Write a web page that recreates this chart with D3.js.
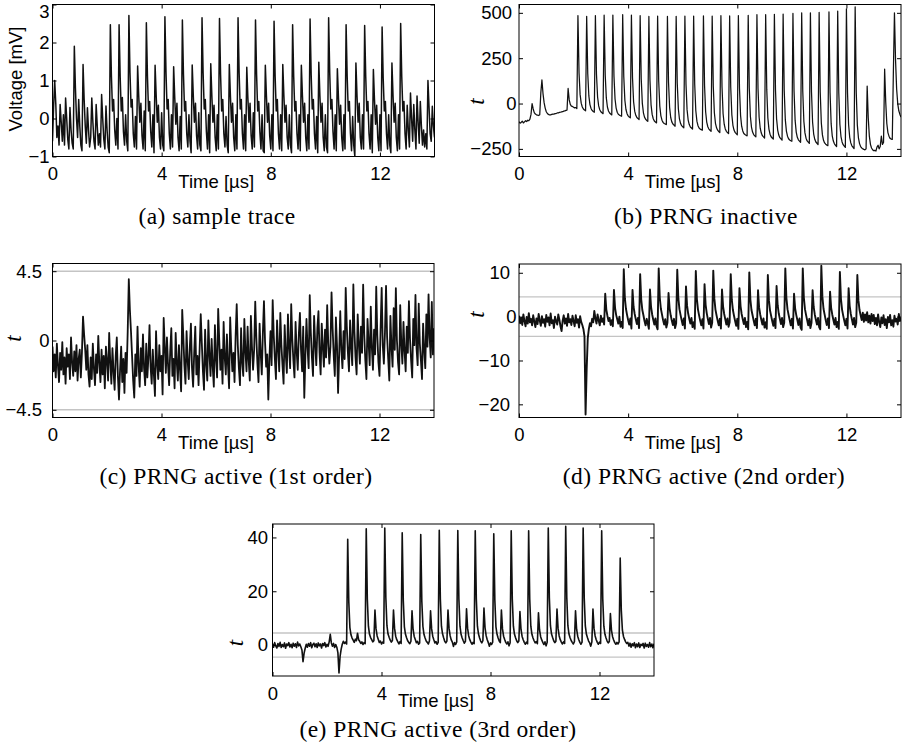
<!DOCTYPE html>
<html>
<head>
<meta charset="utf-8">
<script src="https://cdn.jsdelivr.net/npm/d3@7"></script>
<style>
  html, body { margin: 0; padding: 0; background: #fff; }
  svg { display: block; }
</style>
</head>
<body>
<svg id="fig" width="906" height="754"></svg>
<script>
// Oscilloscope traces, one sample every 0.04 µs from 0 to 14 µs (351 samples each).
const sampleStep = 0.04;
const timeDomain = [0, 14];
const timeTicks = [0, 4, 8, 12];

// (a) raw voltage trace [mV]
const traceA = [
  -0.6,0.3,1.0,0.4,-0.5,-0.2,-0.7,0.37,-0.1,-0.6,0.1,-0.7,0.54,0.0,-0.55,-0.8,0.29,-0.3,-0.65,-0.8,1.9,0.8,0.0,-0.5,0.5,
  -0.2,-0.7,-0.85,1.42,0.5,-0.2,-0.65,0.28,-0.3,-0.75,-0.5,0.54,-0.1,-0.6,-0.8,0.37,-0.2,-0.7,-0.4,-0.75,0.63,0.0,-0.55,-0.8,0.33,
  -0.3,-0.75,-0.9,2.47,1.1,0.2,0.5,-0.3,-0.7,0.0,-0.8,2.47,1.1,0.2,0.55,-0.35,-0.7,0.1,-0.6,-0.85,2.71,1.2,0.3,0.5,-0.4,
  -0.75,0.05,-0.8,1.38,0.6,-0.1,0.4,-0.45,-0.8,0.2,-0.85,2.52,1.1,0.2,0.45,-0.35,-0.75,0.1,-0.9,1.4,0.6,-0.1,0.35,-0.5,-0.8,
  0.15,-0.7,-0.85,2.68,1.2,0.25,0.5,-0.4,-0.8,0.1,-0.75,1.36,0.55,-0.15,0.4,-0.5,-0.85,0.05,-0.8,2.59,1.15,0.2,0.45,-0.4,-0.75,
  0.1,-0.6,-0.9,1.41,0.6,-0.1,0.4,-0.45,-0.8,0.15,-0.7,-0.85,2.65,1.2,0.25,0.5,-0.35,-0.8,0.1,-0.9,1.44,0.6,-0.1,0.35,-0.5,
  -0.85,0.1,-0.8,2.63,1.15,0.2,0.5,-0.4,-0.75,0.05,-0.7,-0.9,1.42,0.6,-0.1,0.4,-0.5,-0.85,0.1,-0.8,2.65,1.2,0.25,0.5,-0.4,
  -0.8,0.1,-0.85,1.35,0.55,-0.1,0.4,-0.45,-0.8,0.15,-0.75,2.59,1.15,0.2,0.45,-0.35,-0.8,0.1,-0.85,-0.9,1.4,0.6,-0.1,0.4,-0.45,
  -0.8,0.1,-0.85,2.56,1.1,0.2,0.5,-0.4,-0.8,0.1,-0.85,1.42,0.6,-0.1,0.35,-0.5,-0.8,0.1,-0.7,-0.9,2.47,1.1,0.2,0.45,-0.4,
  -0.8,0.1,-0.85,1.4,0.6,-0.1,0.4,-0.5,-0.85,0.1,-0.8,2.62,1.15,0.25,0.5,-0.4,-0.8,0.05,-0.9,1.48,0.6,-0.1,0.4,-0.5,-0.85,
  0.1,-0.75,-0.9,2.65,1.2,0.25,0.5,-0.35,-0.8,0.1,-0.85,1.31,0.55,-0.15,0.35,-0.5,-0.85,0.1,-0.8,2.47,1.1,0.2,0.45,-0.4,-0.85,
  0.05,-0.7,-1.0,1.46,0.6,-0.1,0.4,-0.5,-0.8,0.1,-0.8,2.45,1.1,0.2,0.45,-0.4,-0.8,0.1,-0.9,1.29,0.5,-0.15,0.35,-0.5,-0.85,
  0.1,-0.85,2.41,1.05,0.2,0.45,-0.4,-0.8,0.1,-0.7,-0.9,1.46,0.6,-0.1,0.4,-0.5,-0.85,0.1,-0.8,2.5,1.1,0.2,0.45,-0.4,-0.8,
  0.35,-0.3,-0.75,0.67,0.0,-0.6,0.37,-0.3,-0.8,0.59,-0.1,-0.65,0.45,-0.2,-0.7,-0.3,-0.75,-0.4,-0.8,1.0,0.3,-0.4,-0.6,0.32,-0.2,
  -0.5
];

// (b) t-statistic, PRNG inactive
const traceB = [
  -100,-108,-104,-97,-107,-101,-95,-99,-92,-95,-86,-60,0,-30,-50,-58,-62,-64,-66,-62,60,130,55,5,-25,
  -45,-55,-60,-63,-62,-60,-58,-59,-55,-55,-52,-52,-49,-48,-46,-45,-42,-41,-38,-36,83,20,-5,-14,-16,
  -20,-24,-22,-28,485,170,49,2,-19,-30,-36,-40,481,164,42,-6,-27,-38,-44,-48,485,160,36,-13,-34,
  -45,-51,-56,487,157,31,-19,-41,-52,-58,-63,488,153,25,-25,-48,-59,-64,-67,-70,490,149,18,-33,-56,
  -68,-74,-79,488,142,10,-42,-65,-77,-83,-88,484,135,1,-51,-75,-87,-93,-98,480,128,-7,-60,-84,-96,
  -102,-107,482,123,-14,-68,-92,-104,-110,-113,-116,480,117,-22,-77,-101,-113,-119,-125,481,112,-29,-85,-109,-122,
  -128,-134,482,108,-35,-91,-116,-129,-135,-141,482,105,-40,-97,-122,-135,-141,-144,-147,483,101,-45,-102,-128,-141,
  -147,-153,482,97,-51,-109,-134,-147,-154,-160,484,94,-56,-114,-140,-153,-160,-166,483,90,-61,-120,-146,-159,-166,
  -172,485,87,-65,-125,-151,-165,-171,-175,-178,486,84,-70,-130,-157,-171,-178,-184,490,82,-74,-136,-163,-177,-184,
  -190,490,78,-79,-141,-169,-183,-190,-196,492,76,-84,-146,-174,-188,-195,-202,493,72,-89,-152,-180,-194,-201,-205,
  -208,497,70,-93,-157,-186,-200,-207,-214,500,68,-98,-162,-191,-206,-213,-220,500,64,-103,-168,-197,-212,-219,-226,
  502,62,-107,-173,-203,-217,-224,-229,-232,505,60,-111,-178,-207,-222,-230,-237,510,59,-114,-182,-212,-227,-235,-242,
  522,60,-117,-186,-217,-233,-241,-248,533,62,-119,-189,-221,-237,-245,-250,-253,-255,-250,96,-80,-180,-225,-245,-255,
  -260,-258,-262,-240,-230,-250,-235,-180,-225,-215,190,10,-110,-160,-180,-192,-196,-198,170,500,240,80,0,-40,-60,
  -75
];

// (c) t-statistic, PRNG active, 1st order
const traceC = [
  -0.4,-2.0,-0.9,-2.4,-0.2,-1.6,-2.7,-0.8,-1.9,-0.1,-2.2,-1.1,-2.8,-0.5,-1.7,-0.9,-2.5,0.2,-1.4,-2.3,-0.7,-2.0,-0.3,-2.6,-1.2,
  -0.6,-2.4,-0.8,1.55,0.4,-0.6,-1.9,-0.3,-2.2,-3.0,-1.1,-2.5,-0.2,-1.8,-2.9,-0.9,-2.1,0.3,-1.5,-2.7,-0.6,-2.2,-1.0,-3.1,-0.4,
  -1.3,-2.6,0.5,-1.4,-2.8,-0.5,-2.0,-3.2,-1.0,0.2,-2.3,-3.83,-1.9,-0.4,-2.7,-1.2,-3.4,-0.8,-2.1,0.6,3.98,2.0,0.6,-1.0,-2.6,
  -3.7,-0.9,-2.3,0.9,-1.6,-3.0,-0.5,-2.0,0.4,-1.8,-2.9,-0.2,-2.4,-1.1,1.0,-1.7,-2.8,-0.6,-2.2,-3.6,0.6,-1.5,-2.5,-0.3,-2.0,
  -1.0,-3.5,1.46,-0.4,-2.1,0.2,-1.6,-2.9,-0.7,0.8,-2.3,-1.2,-3.1,0.5,-1.4,-2.6,-0.3,-1.9,-3.3,1.99,0.3,-1.6,-2.8,0.6,-1.3,
  -2.5,-0.4,1.1,-1.8,-3.0,-0.8,0.9,-2.2,-1.0,-2.9,-0.5,1.71,-0.2,-2.0,-3.2,0.7,-1.5,-2.6,1.3,-0.9,-2.3,0.1,-1.7,-3.0,1.0,
  -1.2,-2.4,2.06,0.0,-1.9,-0.6,-2.8,1.2,-1.1,-2.2,0.4,-1.6,-3.1,1.5,-0.5,-2.0,-0.8,-2.7,0.3,2.36,-0.3,-1.8,-2.9,0.8,-1.4,
  -2.3,1.4,-0.7,-2.0,0.9,-1.3,-2.6,1.6,-0.4,-1.9,-0.6,2.53,0.2,-1.5,-2.7,1.1,-0.8,-2.2,0.5,2.56,-0.1,-1.7,-0.9,-3.83,-1.2,
  0.6,-1.6,2.62,0.3,-1.2,-2.5,1.3,-0.5,-2.0,1.8,-0.3,-1.6,-2.8,1.0,-0.9,-2.1,1.7,-0.4,-1.8,2.36,0.1,-1.3,-2.4,1.2,-0.7,
  -1.9,0.4,1.8,-0.6,-2.0,0.9,-3.72,-1.0,1.4,-0.5,-1.8,2.95,0.5,-1.1,-2.3,1.6,-0.2,-1.6,0.8,1.9,-0.8,-2.2,1.1,-0.4,-1.7,
  0.7,-1.1,2.3,-0.2,-1.5,-0.4,3.13,0.8,-1.0,-2.3,1.5,-0.3,-3.4,-0.9,1.9,-0.6,-1.8,0.6,-1.2,3.42,0.9,-0.8,-2.0,1.3,-0.4,
  -1.6,3.64,0.6,-1.1,-2.2,1.7,-0.2,-1.5,0.9,-0.8,3.63,0.4,-1.3,-2.5,1.4,-0.1,-1.6,2.2,-0.5,-1.9,0.7,-0.9,3.49,0.3,-1.4,
  -2.3,0.8,3.42,-0.3,-1.5,0.5,3.55,0.2,-1.2,-2.6,1.6,-0.4,-1.7,2.1,-0.6,3.4,0.0,-1.4,-2.2,2.3,-0.2,-1.5,1.2,-0.7,-2.0,
  0.9,-0.8,2.56,0.1,-1.3,-2.4,1.4,-0.3,2.96,-0.5,-1.6,2.4,-0.2,-1.3,-2.5,1.1,-0.6,-1.8,1.7,-0.4,3.0,0.2,-1.1,2.5,-0.9,
  0.8
];

// (d) t-statistic, PRNG active, 2nd order
const traceD = [
  0.2,-1.5,-0.3,-1.9,0.5,-1.0,-2.2,-0.1,-1.6,0.8,-1.3,-0.5,-2.0,0.3,-1.1,-2.4,-0.4,-1.7,0.6,-0.9,-2.1,0.1,-1.4,-0.6,-2.3,
  0.4,-1.2,-0.2,-2.0,0.7,-1.5,-0.8,-2.6,0.0,-1.1,-1.8,0.5,-0.7,-2.2,-3.3,-0.9,0.3,-1.6,-0.4,-2.1,0.6,-1.3,-0.6,-1.9,0.2,
  -1.0,-2.2,0.3,-1.4,-0.6,-2.5,0.1,-1.2,-1.9,-2.8,-4.5,-22.3,-12.0,-4.9,-2.8,-1.5,-2.2,-0.5,-1.3,1.3,-0.4,-1.6,0.5,-0.9,-2.0,
  0.2,-1.2,-0.4,-1.8,5.2,1.6,0.2,-1.0,-0.3,-1.9,-0.8,-2.2,6.1,2.0,0.4,-0.6,-1.6,0.0,-2.3,-1.2,-2.6,10.8,4.2,1.8,0.4,
  -0.8,-1.8,-0.4,-2.7,6.1,2.2,0.6,-0.6,-1.7,-0.3,-2.6,9.7,3.9,1.5,0.3,-1.0,-2.0,-0.5,-1.6,-2.8,6.2,2.2,0.5,-0.7,-1.8,
  -0.4,-2.2,-2.9,11.0,4.3,1.8,0.5,-0.8,-1.8,-0.6,-2.5,-1.4,5.4,1.9,0.3,-0.9,-1.9,-0.5,-2.6,-1.5,10.7,4.2,1.7,0.4,-0.8,
  -1.9,-0.4,-2.7,6.9,2.5,0.7,-0.5,-1.6,-0.3,-2.4,-1.3,-2.8,10.4,4.0,1.6,0.3,-0.9,-2.0,-0.6,-2.7,7.4,2.7,0.8,-0.5,-1.7,
  -0.3,-2.5,-1.4,10.5,4.1,1.6,0.3,-0.9,-2.0,-0.5,-2.7,6.2,2.3,0.6,-0.6,-1.8,-0.4,-2.3,-1.3,9.7,3.8,1.5,0.2,-1.0,-2.1,
  -0.5,-2.8,6.5,2.4,0.6,-0.6,-1.7,-0.3,-2.4,-1.2,-2.9,10.1,3.9,1.5,0.3,-0.9,-2.0,-0.5,-2.6,6.0,2.1,0.5,-0.7,-1.8,-0.4,
  -2.5,-1.3,-2.8,9.5,3.7,1.4,0.2,-1.0,-2.1,-0.5,-2.6,7.0,2.6,0.7,-0.5,-1.7,-0.3,-2.4,-1.4,11.0,4.3,1.7,0.4,-0.8,-2.0,
  -0.5,-2.7,5.2,1.9,0.4,-0.7,-1.9,-0.4,-2.5,-3.0,11.0,4.3,1.7,0.4,-0.8,-2.0,-0.5,-2.6,-1.4,6.0,2.2,0.5,-0.7,-1.8,-0.3,
  -2.4,-2.9,11.6,4.5,1.8,0.5,-0.8,-1.9,-0.4,-2.6,5.7,2.0,0.5,-0.7,-1.8,-0.3,-2.4,-1.2,-2.8,10.2,4.0,1.6,0.3,-0.9,-2.0,
  -0.5,-2.7,6.5,2.4,0.6,-0.6,-1.8,-0.3,-2.4,-1.4,9.5,3.7,1.5,0.3,-0.8,0.9,-1.2,0.5,-0.9,1.0,-1.3,0.2,-1.6,0.6,-1.0,
  0.4,-1.7,-0.3,-2.0,0.5,-1.2,-2.4,-0.2,-1.5,0.3,-1.9,-0.6,-2.6,-0.1,-1.3,0.4,-2.0,-0.8,-2.3,0.2,-1.1,-0.5,-1.8,0.6,-1.0,
  -0.2
];

// (e) t-statistic, PRNG active, 3rd order
const traceE = [
  0.5,-0.8,0.9,-0.3,-1.1,0.6,-0.5,1.0,-0.9,0.2,-0.6,0.8,-1.2,0.4,-0.2,0.9,-0.7,0.3,-1.0,0.7,-0.4,0.5,-0.9,1.1,-0.3,
  0.4,-0.6,-1.8,-6.2,-3.0,-1.2,0.3,-0.8,0.6,-0.4,0.9,-1.0,0.2,0.7,-0.6,0.5,-0.9,0.8,-0.3,0.4,-1.1,0.6,-0.2,0.9,-0.7,
  0.3,-0.5,1.2,4.0,0.8,-0.4,0.6,-0.9,0.2,-0.8,-2.8,-10.4,-4.2,-1.5,0.3,1.4,0.6,1.1,0.4,39.3,16,6.5,3.8,2.6,1.8,
  1.0,2.2,1.6,4.4,2.0,1.4,0.6,1.2,0.2,0.9,0.5,43.2,17,7,4,2.8,2.0,1.2,1.6,13.0,6.0,3.4,2.2,1.0,1.5,
  0.4,1.1,0.7,43.5,17.5,7.2,4.1,2.9,1.8,1.1,1.7,13.0,6.2,3.3,2.0,1.2,0.4,1.3,0.6,41.7,16.5,6.8,4.0,2.7,1.6,
  1.0,0.5,1.4,12.7,5.8,3.2,2.1,0.9,1.4,0.3,0.8,41.1,16.2,6.9,3.9,2.6,1.5,1.0,0.4,1.6,12.7,6.0,3.3,2.0,0.8,
  1.3,0.3,1.0,42.7,17,7,4.2,2.7,1.4,0.8,1.5,13.0,6.1,3.4,1.9,1.1,-0.5,0.9,0.2,1.2,42.6,17,7,4,2.6,
  1.6,0.7,1.4,13.5,6.2,3.4,2.0,1.1,0.3,1.0,0.5,42.5,17,7,4.1,2.6,1.5,0.8,1.6,13.8,6.4,3.5,2.0,0.9,-0.4,
  0.8,0.2,1.1,41.4,16.5,6.8,4,2.6,1.5,0.9,13.0,6.0,3.3,2.1,1.0,0.4,1.2,-0.3,0.9,42.5,17,7,4,2.7,1.6,
  0.9,1.5,12.5,5.8,3.2,2.0,1.0,0.3,1.1,0.5,42.5,17,7,4,2.6,1.6,0.8,1.3,0.5,12.0,5.6,3.1,1.9,1.0,0.2,
  1.2,-0.3,1.0,43.5,17.5,7.2,4.1,2.8,1.6,0.9,1.4,13.4,6.2,3.4,2.0,1.1,0.4,1.2,0.6,44.1,17.6,7.2,4.1,2.7,1.7,
  1.0,0.4,1.3,12.7,5.9,3.3,2.0,1.0,0.3,1.1,43.5,17.4,7.1,4.0,2.7,1.5,0.8,-0.4,1.2,13.4,6.2,3.4,2.0,1.0,0.3,
  1.1,0.6,42.5,17,7,4,2.6,1.5,0.8,1.3,11.7,5.5,3.1,1.9,0.9,0.3,1.0,0.4,1.2,32.3,13,5.6,3.2,2.1,1.2,
  0.6,1.0,-0.4,0.7,-0.8,0.5,-0.3,0.9,-1.0,0.4,-0.6,0.8,-0.9,0.3,-0.2,0.6,-1.1,0.7,-0.5,0.2,-0.8,0.9,-0.6,0.4,-1.0,
  0.5
];

// y-axis ticks per panel
const yTicksA = [-1, 0, 1, 2, 3];
const yTicksB = [-250, 0, 250, 500];
const yTicksC = [-4.5, 0, 4.5];
const yTicksD = [-20, -10, 0, 10];
const yTicksE = [0, 20, 40];

// significance threshold |t| = 4.5
const thresholds = [-4.5, 4.5];

const captions = [
  "(a) sample trace",
  "(b) PRNG inactive",
  "(c) PRNG active (1st order)",
  "(d) PRNG active (2nd order)",
  "(e) PRNG active (3rd order)"
];

// ---- layout ----
const sansFont = "'Liberation Sans', Arial, Helvetica, sans-serif";
const serifFont = "'Liberation Serif', 'Times New Roman', serif";
const tickFontSize = 18.5;

const panels = [
  { trace: traceA, lineWidth: 1.5, box: {l: 52.5, r: 434.5, t: 4.5, b: 156.5}, yDomain: [-1, 3], yTicks: yTicksA,
    yLabel: "Voltage [mV]", yLabelPos: [15.5, 79], labelGap: 3, zeroGap: 3, guides: null,
    caption: captions[0], capPos: [217, 224] },
  { trace: traceB, lineWidth: 1.25, box: {l: 519, r: 901, t: 4.5, b: 156.5}, yDomain: [-292, 546], yTicks: yTicksB,
    yLabel: "t", yLabelX: 478, labelGap: 7, zeroGap: 2.5, guides: null,
    caption: captions[1], capPos: [706, 224] },
  { trace: traceC, lineWidth: 1.8, box: {l: 52.5, r: 434, t: 263.5, b: 417.5}, yDomain: [-5, 5], yTicks: yTicksC,
    yLabel: "t", yLabelX: 15, labelGap: 10.5, zeroGap: 3, guides: thresholds,
    caption: captions[2], capPos: [236, 484] },
  { trace: traceD, lineWidth: 1.9, box: {l: 519, r: 901, t: 264, b: 417.5}, yDomain: [-23, 12], yTicks: yTicksD,
    yLabel: "t", yLabelX: 478, labelGap: 9, zeroGap: 2.5, guides: thresholds,
    caption: captions[3], capPos: [704, 484] },
  { trace: traceE, lineWidth: 1.6, box: {l: 272.5, r: 654, t: 524, b: 676}, yDomain: [-11.5, 45], yTicks: yTicksE,
    yLabel: "t", yLabelX: 237, labelGap: 4.5, zeroGap: 4.5, guides: thresholds,
    caption: captions[4], capPos: [438, 737] }
];

const fig = d3.select("#fig");
const numFmt = d3.format("");

function styleAxis(sel) {
  sel.select(".domain").remove();
  sel.selectAll(".tick line").attr("stroke", "#000").attr("stroke-width", 1);
  sel.selectAll(".tick text")
    .attr("fill", "#000")
    .style("font-family", sansFont)
    .style("font-size", tickFontSize + "px");
}

panels.forEach((p, k) => {
  const b = p.box;
  const x = d3.scaleLinear().domain(timeDomain).range([b.l, b.r]);
  const y = d3.scaleLinear().domain(p.yDomain).range([b.b, b.t]);
  const g = fig.append("g").attr("class", "panel panel-" + k);

  const clipId = "plot-clip-" + k;
  g.append("clipPath").attr("id", clipId)
    .append("rect")
    .attr("x", b.l).attr("y", b.t)
    .attr("width", b.r - b.l).attr("height", b.b - b.t);

  // threshold lines
  if (p.guides) {
    g.append("g").selectAll("line").data(p.guides).join("line")
      .attr("x1", b.l).attr("x2", b.r)
      .attr("y1", d => y(d)).attr("y2", d => y(d))
      .attr("stroke", "#c4c4c4").attr("stroke-width", 1.4);
  }

  // trace
  const line = d3.line()
    .x((v, i) => x(i * sampleStep))
    .y(v => y(v));
  g.append("path")
    .datum(p.trace)
    .attr("clip-path", "url(#" + clipId + ")")
    .attr("d", line)
    .attr("fill", "none")
    .attr("stroke", "#111")
    .attr("stroke-width", p.lineWidth)
    .attr("stroke-linejoin", "round");

  // axes: ticks point inward on all four sides
  const bottom = g.append("g").attr("transform", `translate(0,${b.b})`)
    .call(d3.axisBottom(x).tickValues(timeTicks).tickFormat(numFmt)
      .tickSizeInner(-4).tickSizeOuter(0).tickPadding(10.5));
  styleAxis(bottom);

  const top = g.append("g").attr("transform", `translate(0,${b.t})`)
    .call(d3.axisTop(x).tickValues(timeTicks).tickFormat("")
      .tickSizeInner(-4).tickSizeOuter(0));
  styleAxis(top);

  const left = g.append("g").attr("transform", `translate(${b.l},0)`)
    .call(d3.axisLeft(y).tickValues(p.yTicks).tickFormat(numFmt)
      .tickSizeInner(-4).tickSizeOuter(0).tickPadding(p.labelGap));
  styleAxis(left);
  left.selectAll(".tick text").filter(d => d === 0)
    .attr("dx", p.labelGap - p.zeroGap);
  // keep a label sitting on the very top edge of the figure fully visible
  left.selectAll(".tick text").filter(d => y(d) < 8)
    .attr("dy", "0.7em");

  const right = g.append("g").attr("transform", `translate(${b.r},0)`)
    .call(d3.axisRight(y).tickValues(p.yTicks).tickFormat("")
      .tickSizeInner(-4).tickSizeOuter(0));
  styleAxis(right);

  // frame
  g.append("rect")
    .attr("x", b.l).attr("y", b.t)
    .attr("width", b.r - b.l).attr("height", b.b - b.t)
    .attr("fill", "none").attr("stroke", "#000").attr("stroke-width", 1);

  // x label, centred under t = 6 µs
  g.append("text")
    .attr("x", x(6)).attr("y", b.b + 31)
    .attr("text-anchor", "middle")
    .style("font-family", sansFont)
    .style("font-size", tickFontSize + "px")
    .text("Time [µs]");

  // y label
  if (p.yLabel === "t") {
    g.append("text")
      .attr("transform", `translate(${p.yLabelX},${y(0) - 2}) rotate(-90)`)
      .attr("text-anchor", "middle")
      .attr("dy", "0.28em")
      .style("font-family", serifFont)
      .style("font-style", "italic")
      .style("font-size", "23px")
      .text("t");
  } else {
    g.append("text")
      .attr("transform", `translate(${p.yLabelPos[0]},${p.yLabelPos[1]}) rotate(-90)`)
      .attr("text-anchor", "middle")
      .attr("dy", "0.35em")
      .style("font-family", sansFont)
      .style("font-size", tickFontSize + "px")
      .text(p.yLabel);
  }

  // sub-figure caption
  g.append("text")
    .attr("x", p.capPos[0]).attr("y", p.capPos[1])
    .attr("text-anchor", "middle")
    .style("font-family", serifFont)
    .style("font-size", "23.5px")
    .style("letter-spacing", "0.45px")
    .text(p.caption);
});
</script>
</body>
</html>
